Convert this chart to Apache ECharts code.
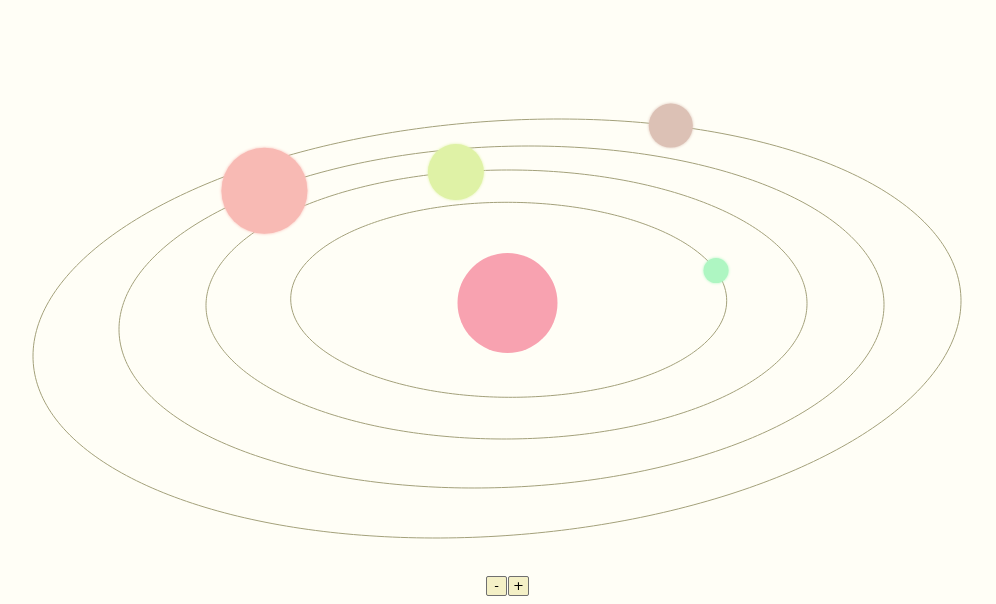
<!DOCTYPE html>
<html>
<head>
<meta charset="utf-8">
<script src="https://cdn.jsdelivr.net/npm/echarts@6/dist/echarts.min.js"></script>
<style>
html,body{margin:0;padding:0;width:996px;height:604px;overflow:hidden;background:#fffef6;}
#chart{position:absolute;left:0;top:0;width:996px;height:604px;}
#ctrl{position:absolute;left:486px;top:576px;display:flex;gap:0;}
#ctrl button{width:21px;height:20px;margin:0 1px 0 0;padding:0;background:#f4f0c6;border:1px solid #6f6f6f;border-radius:2px;font:13px "DejaVu Sans",sans-serif;color:#000;line-height:16px;cursor:pointer;}
</style>
</head>
<body>
<div id="chart"></div>
<div id="ctrl"><button id="zoomOut">-</button><button id="zoomIn">+</button></div>
<script>
// ---- Orbit data (ellipse centre, half extents, x-y coupling) ----
const orbitNames      = ['Orbit 1', 'Orbit 2', 'Orbit 3', 'Orbit 4'];
const orbitCenterX    = [508.7, 506.5, 501.5, 497];
const orbitCenterY    = [299.8, 304.5, 317, 328.5];
const orbitHalfWidth  = [218, 300.5, 382.5, 464];
const orbitHalfHeight = [97.5, 134.5, 171, 209.5];
const orbitCoupling   = [200, -300, -4700, -12830];

// ---- Bodies ----
const sunName = 'Sun';
const sunPosition = [507.5, 303];
const sunDiameter = 100;
const planetNames    = ['Planet 1', 'Planet 2', 'Planet 3', 'Planet 4'];
const planetOrbit    = [0, 1, 2, 3];
const planetAngleDeg = [-18, -99.7, -128.3, -68.0];
const planetDiameter = [25, 56, 86, 44];

// ---- Styles ----
const sunColor = '#f8a2b0';
const planetColors = ['#aef6c2', '#dff2a6', '#f8bab4', '#dcc1b5'];
const orbitColor = '#a3a07a';

function orbitPoint(i, deg) {
  const t = deg * Math.PI / 180;
  const ex = orbitHalfWidth[i], ey = orbitHalfHeight[i], k = orbitCoupling[i];
  const b = Math.sqrt(ex * ex * ey * ey - k * k) / ex;
  return [orbitCenterX[i] + ex * Math.cos(t),
          orbitCenterY[i] + (k / ex) * Math.cos(t) + b * Math.sin(t)];
}

const series = [];
orbitNames.forEach(function (name, i) {
  const pts = [];
  for (let d = 0; d <= 360; d += 1) pts.push(orbitPoint(i, d));
  series.push({
    name: name, type: 'line', data: pts, symbol: 'none', smooth: false,
    silent: true, z: 1,
    lineStyle: { color: orbitColor, width: 1 }
  });
});

const bodies = [{
  name: sunName, value: sunPosition, symbolSize: sunDiameter,
  itemStyle: { color: sunColor }
}];
planetNames.forEach(function (name, j) {
  bodies.push({
    name: name,
    value: orbitPoint(planetOrbit[j], planetAngleDeg[j]),
    symbolSize: planetDiameter[j],
    itemStyle: { color: planetColors[j], shadowBlur: 3, shadowColor: planetColors[j] }
  });
});
series.push({
  name: 'Bodies', type: 'scatter', data: bodies, z: 5,
  itemStyle: { opacity: 1 }
});

const W = 996, H = 604;
let scale = 1;
const chart = echarts.init(document.getElementById('chart'));
function axes() {
  const cx = W / 2, cy = H / 2;
  return {
    x: { min: cx - cx / scale, max: cx + cx / scale },
    y: { min: cy - cy / scale, max: cy + cy / scale }
  };
}
function render() {
  const a = axes();
  chart.setOption({
    backgroundColor: 'transparent',
    animation: false,
    grid: { left: 0, right: 0, top: 0, bottom: 0, containLabel: false },
    xAxis: { type: 'value', min: a.x.min, max: a.x.max, show: false },
    yAxis: { type: 'value', min: a.y.min, max: a.y.max, inverse: true, show: false },
    tooltip: { show: false },
    series: series
  });
}
render();
document.getElementById('zoomIn').onclick = function () { scale *= 1.2; render(); };
document.getElementById('zoomOut').onclick = function () { scale /= 1.2; render(); };
</script>
</body>
</html>
